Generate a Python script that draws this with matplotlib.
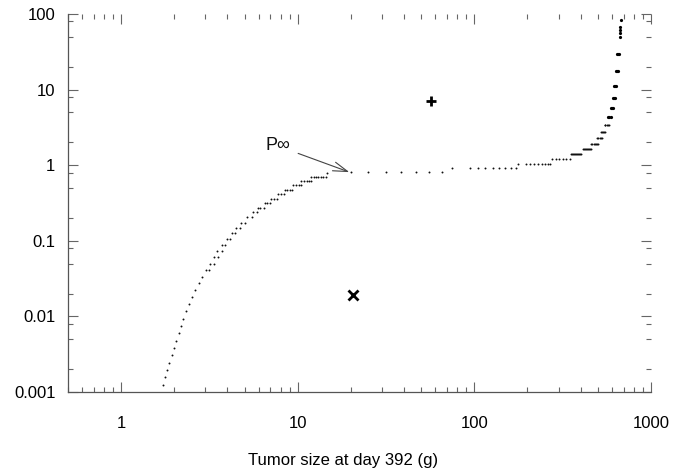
import numpy as np
import matplotlib
matplotlib.use('Agg')
import matplotlib.pyplot as plt
from matplotlib.ticker import LogLocator, NullFormatter, FixedFormatter, FixedLocator

plt.rcParams['font.family'] = ['Liberation Sans', 'DejaVu Sans']

# probability levels and the tumor sizes (g) of the points on each level
levels = [0.00123, 0.00156, 0.00195, 0.00244, 0.00306, 0.00379, 0.00477,
          0.00598, 0.00746, 0.00933, 0.01167, 0.01445, 0.0179, 0.0221,
          0.0274, 0.0335, 0.0411, 0.0493, 0.0605, 0.0733, 0.0880, 0.1066,
          0.1257, 0.149, 0.1735, 0.2046, 0.238, 0.274, 0.316, 0.360, 0.416,
          0.474, 0.542, 0.612, 0.705, 0.796, 0.805, 0.910, 1.037, 1.197,
          1.394, 1.623, 1.907, 2.29, 2.75, 3.40, 4.30, 5.66, 7.74, 11.26,
          17.46, 29.6, 50.0, 56.0, 62.0, 68.0, 83.0]
sizes = [[1.73], [1.776], [1.824], [1.872], [1.929], [1.988], [2.051],
         [2.122], [2.178], [2.248], [2.325], [2.417], [2.515], [2.615],
         [2.745], [2.866], [3.02, 3.15], [3.18, 3.35], [3.35, 3.52],
         [3.50, 3.71], [3.72, 3.89], [3.96, 4.14], [4.22, 4.42],
         [4.49, 4.70], [4.78, 5.02], [5.14, 5.54], [5.56, 5.91],
         [5.96, 6.11, 6.44], [6.50, 6.67, 6.97], [7.09, 7.34, 7.60],
         [7.73, 8.01, 8.36], [8.47, 8.74, 9.01, 9.33],
         [9.40, 9.74, 10.17, 10.40], [10.50, 10.86, 11.25, 11.59, 11.85],
         [11.96, 12.37, 12.65, 13.04, 13.50, 13.99, 14.42], [14.74],
         [20.0, 24.9, 31.6, 38.4, 46.7, 55.4, 65.3],
         [74.4, 94.5, 104.5, 115.5, 127.2, 138.6, 149.3, 161.5, 172.4],
         [176.3, 196.5, 207.8, 218.9, 230.7, 241.2, 252.8, 260.9, 268.9],
         [274.8, 290.7, 303.5, 317.3, 331.3, 345.9],
         [354, 359, 363, 368, 373, 378, 382, 388, 393, 398, 403],
         [412, 418, 423, 429, 434, 440, 446, 450, 455],
         [459, 466, 473, 480, 487, 494, 501], [497, 504, 512, 520, 528],
         [523, 530, 537, 544, 551], [546, 553, 561, 568, 576],
         [571, 581, 591], [591, 600, 610], [606, 616, 626],
         [618, 627, 636], [631, 641, 651], [642, 652, 662],
         [664], [667], [669], [671], [673]]

plus_pt = (56.8, 7.07)
cross_pt = (20.5, 0.0192)
p_inf = (19.6, 0.81)

xs = np.array([s for lv, row in zip(levels, sizes) for s in row])
ys = np.array([lv for lv, row in zip(levels, sizes) for s in row])

fig = plt.figure(figsize=(6.91, 4.72), dpi=100, facecolor='white')
ax = fig.add_axes([0.0984, 0.1695, 0.8436, 0.8008])

# sparse part of the curve: fine specks; top part drawn heavier
low = ys < 4
high = ys >= 4
ax.plot(xs[low], ys[low], linestyle='none', marker='o', ms=1.4, mew=0, color='#111111')
ax.plot(xs[high], ys[high], linestyle='none', marker='o', ms=2.3, mew=0, color='black')
ax.plot(*plus_pt, marker='+', ms=7.5, mew=2.0, color='black')
ax.plot(*cross_pt, marker='x', ms=6.5, mew=2.0, color='black')

ax.annotate('P\u221e', xy=p_inf, xytext=(7.7, 1.8), fontsize=13,
            ha='center', va='center', color='#111111',
            arrowprops=dict(arrowstyle='->,head_length=0.8,head_width=0.25',
                            color='#444444', lw=0.8, shrinkA=4, shrinkB=0))

ax.set_xscale('log')
ax.set_yscale('log')
ax.set_xlim(0.5, 1000)
ax.set_ylim(0.001, 100)

ax.xaxis.set_major_locator(FixedLocator([1, 10, 100, 1000]))
ax.xaxis.set_major_formatter(FixedFormatter(['1', '10', '100', '1000']))
ax.xaxis.set_minor_locator(LogLocator(base=10, subs=np.arange(2, 10)))
ax.xaxis.set_minor_formatter(NullFormatter())
ax.yaxis.set_major_locator(FixedLocator([0.001, 0.01, 0.1, 1, 10, 100]))
ax.yaxis.set_major_formatter(FixedFormatter(['0.001', '0.01', '0.1', '1', '10', '100']))
ax.yaxis.set_minor_locator(LogLocator(base=10, subs=(2, 5, 8)))
ax.yaxis.set_minor_formatter(NullFormatter())

ax.tick_params(which='both', direction='in', top=True, right=True,
               color='#666666', width=0.8, labelsize=12, labelcolor='black')
ax.tick_params(which='major', length=7)
ax.tick_params(which='minor', length=3.3)
ax.tick_params(axis='x', which='major', pad=17)
ax.tick_params(axis='y', which='major', pad=9)

for side in ('top', 'right'):
    ax.spines[side].set_visible(False)
for side in ('left', 'bottom'):
    ax.spines[side].set_color('#555555')
    ax.spines[side].set_linewidth(0.9)

ax.set_xlabel('Tumor size at day 392 (g)', fontsize=12)
ax.xaxis.set_label_coords(0.4726, -0.161)

fig.savefig('out.png', dpi=100, facecolor='white')
